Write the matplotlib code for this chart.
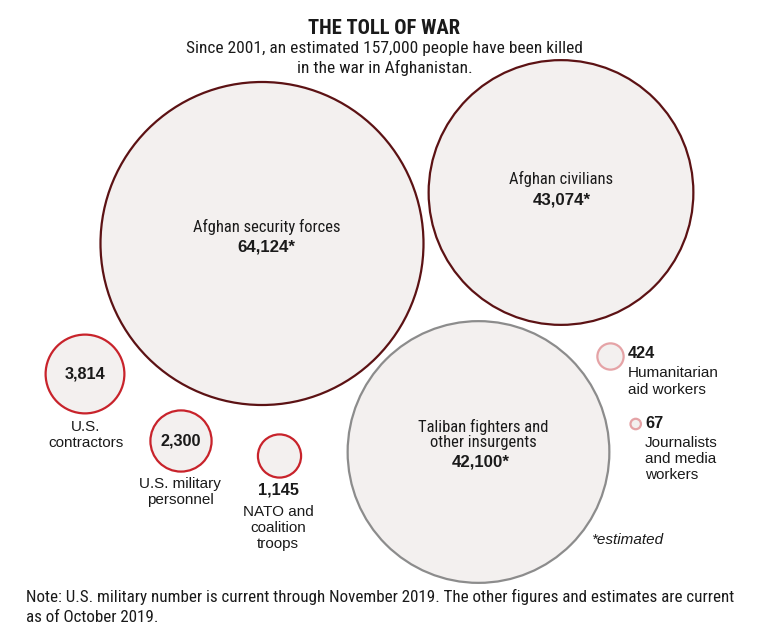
import matplotlib
matplotlib.use("Agg")
import matplotlib.pyplot as plt
from matplotlib.patches import Circle
from matplotlib import font_manager as fm
import numpy as np

# ---------------- data ----------------
categories = ["Afghan security forces", "Afghan civilians", "Taliban fighters and other insurgents",
              "U.S. contractors", "U.S. military personnel", "NATO and coalition troops",
              "Humanitarian aid workers", "Journalists and media workers"]
values = [64124, 43074, 42100, 3814, 2300, 1145, 424, 67]
estimated = [True, True, True, False, False, False, False, False]
value_labels = ["64,124*", "43,074*", "42,100*", "3,814", "2,300", "1,145", "424", "67"]

title = "THE TOLL OF WAR"
subtitle_lines = ["Since 2001, an estimated 157,000 people have been killed",
                  "in the war in Afghanistan."]
note_lines = ["Note: U.S. military number is current through November 2019. The other figures and estimates are current",
              "as of October 2019."]
footnote = "*estimated"

# ---------------- layout (pixels) ----------------
W, H = 766, 633
centers = [(262, 243.5), (561, 192.5), (478.5, 452), (85, 374), (181, 441), (279.5, 456),
           (610.5, 356.5), (635.7, 424)]
edge_colors = ["#5c1214", "#5c1214", "#8c8c8c", "#c8232b", "#c8232b", "#c8232b", "#e5a3a6", "#e5a3a6"]
fill = "#f3f0ef"
scale = 161.5 / np.sqrt(values[0])   # pixels per sqrt(unit)

names = {f.name for f in fm.fontManager.ttflist}
def pick(cands, default):
    for c in cands:
        if c in names:
            return c
    return default

NARROW = pick(["Liberation Sans Narrow", "DejaVu Sans Condensed", "Roboto Condensed",
               "Open Sans Condensed"], "Liberation Sans")
REG = pick(["Liberation Sans", "Arial", "DejaVu Sans"], "DejaVu Sans")
TXT = "#1a1a1a"

fig = plt.figure(figsize=(W / 100, H / 100), dpi=100)
ax = fig.add_axes([0, 0, 1, 1])
ax.set_xlim(0, W)
ax.set_ylim(H, 0)
ax.set_aspect("equal")
ax.axis("off")

for v, (cx, cy), ec in zip(values, centers, edge_colors):
    r = scale * np.sqrt(v)
    ax.add_patch(Circle((cx, cy), r, facecolor=fill, edgecolor=ec, linewidth=1.6, zorder=2))

fig.canvas.draw()
renderer = fig.canvas.get_renderer()

def fit(texts, target_w):
    t0 = texts[0]
    bb = t0.get_window_extent(renderer)
    fs = t0.get_fontsize() * target_w / bb.width
    for t in texts:
        t.set_fontsize(fs)

def T(x, y, s, **kw):
    kw.setdefault("color", TXT)
    kw.setdefault("ha", "center")
    kw.setdefault("va", "center")
    return ax.text(x, y, s, zorder=5, **kw)

# title / subtitle
t_title = T(384, 28, title, family=NARROW, fontweight="bold", fontsize=12)
fit([t_title], 152)
s1 = T(384.5, 49, subtitle_lines[0], family=NARROW, fontsize=11)
s2 = T(384.5, 68, subtitle_lines[1], family=NARROW, fontsize=11)
fit([s1, s2], 395)

# big circle labels
big1 = T(267, 227, "Afghan security forces", family=NARROW, fontsize=11)
big2 = T(561.5, 179, "Afghan civilians", family=NARROW, fontsize=11)
big3a = T(483, 427, "Taliban fighters and", family=NARROW, fontsize=11)
big3b = T(483, 443, "other insurgents", family=NARROW, fontsize=11)
fit([big1, big2, big3a, big3b], 147)
n1 = T(266, 247, value_labels[0], family=REG, fontweight="bold", fontsize=11)
n2 = T(562, 200, value_labels[1], family=REG, fontweight="bold", fontsize=11)
n3 = T(481, 462, value_labels[2], family=REG, fontweight="bold", fontsize=11)
fit([n1, n2, n3], 58)

# small circles
NUMFS = 11.7
LBLFS = 11
T(85, 374, value_labels[3], family=REG, fontweight="bold", fontsize=NUMFS)
T(86, 427, "U.S.", family=REG, fontsize=LBLFS)
T(86, 443, "contractors", family=REG, fontsize=LBLFS)

T(181, 441, value_labels[4], family=REG, fontweight="bold", fontsize=NUMFS)
T(180, 484, "U.S. military", family=REG, fontsize=LBLFS)
T(180, 500, "personnel", family=REG, fontsize=LBLFS)

T(278, 490, value_labels[5], family=REG, fontweight="bold", fontsize=NUMFS)
T(278, 512, "NATO and", family=REG, fontsize=LBLFS)
T(278, 528, "coalition", family=REG, fontsize=LBLFS)
T(278, 544, "troops", family=REG, fontsize=LBLFS)

T(628, 353, value_labels[6], family=REG, fontweight="bold", fontsize=NUMFS, ha="left")
T(628, 373, "Humanitarian", family=REG, fontsize=LBLFS, ha="left")
T(628, 390, "aid workers", family=REG, fontsize=LBLFS, ha="left")

T(645, 424, value_labels[7], family=REG, fontweight="bold", fontsize=NUMFS, ha="left")
T(645, 443, "Journalists", family=REG, fontsize=LBLFS, ha="left")
T(645, 459, "and media", family=REG, fontsize=LBLFS, ha="left")
T(645, 475, "workers", family=REG, fontsize=LBLFS, ha="left")

T(591, 540, footnote, family=REG, fontsize=LBLFS, style="italic", ha="left")

# note
nl1 = T(26, 597, note_lines[0], family=NARROW, fontsize=11, ha="left")
nl2 = T(26, 617, note_lines[1], family=NARROW, fontsize=11, ha="left")
fit([nl1, nl2], 706)

fig.savefig("out.png", dpi=100, facecolor="white")
